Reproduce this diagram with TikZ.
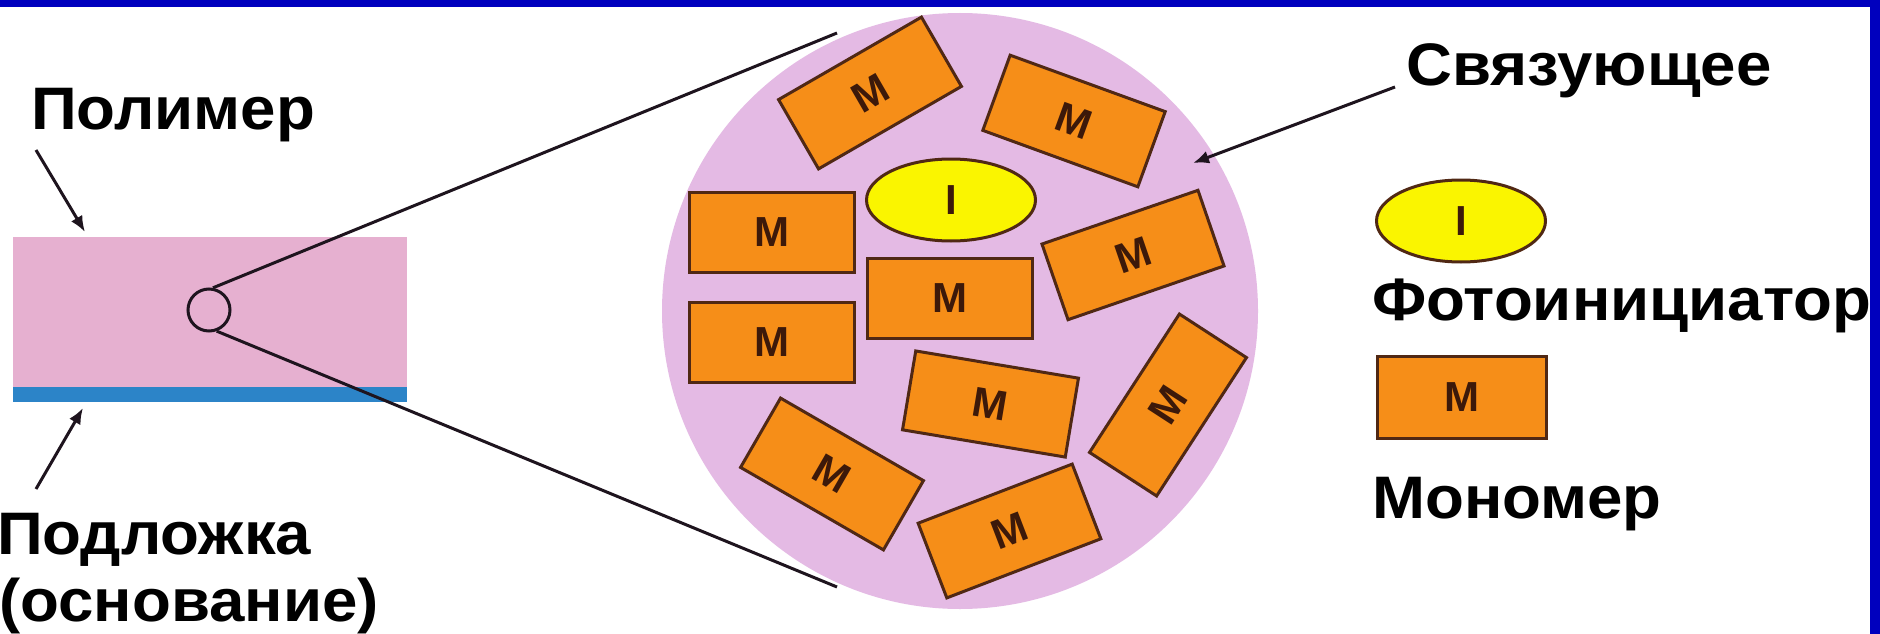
\documentclass[tikz,border=0pt]{standalone}
\usepackage{fontspec}
\setmainfont{Liberation Sans}
\newfontfamily\lblfont{Liberation Sans}[FakeStretch=1.06]
\usetikzlibrary{shapes.geometric,arrows.meta}
\definecolor{frameblue}{RGB}{0,0,190}
\definecolor{polypink}{RGB}{230,176,208}
\definecolor{circpink}{RGB}{228,186,228}
\definecolor{subblue}{RGB}{44,132,200}
\definecolor{morange}{RGB}{246,142,24}
\definecolor{mborder}{RGB}{80,40,20}
\definecolor{mtext}{RGB}{60,25,10}
\definecolor{iyellow}{RGB}{250,245,0}
\definecolor{lineclr}{RGB}{30,20,30}
\tikzset{
  mono/.style={draw=mborder, line width=3pt, fill=morange, minimum width=165pt,
    minimum height=80pt, inner sep=0pt, text=mtext,
    font=\fontsize{42}{46}\selectfont\bfseries},
  ini/.style={ellipse, draw=mborder, line width=3pt, fill=iyellow, minimum width=169pt,
    minimum height=82pt, inner sep=0pt, text=mtext,
    font=\fontsize{42}{46}\selectfont\bfseries},
  lbl/.style={anchor=base west, inner sep=0pt, text=black,
    font=\lblfont\fontsize{60}{70}\selectfont\bfseries},
  zline/.style={draw=lineclr, line width=3pt},
  parrow/.style={draw=lineclr, line width=3pt, -{Latex[length=16pt,width=13pt]}}
}
\begin{document}
\begin{tikzpicture}[x=1pt,y=-1pt]
\useasboundingbox (0,0) rectangle (1880,634);
\fill[white] (0,0) rectangle (1880,634);
% frame bars
\fill[frameblue] (0,0) rectangle (1880,7);
\fill[frameblue] (1870,0) rectangle (1880,634);

% polymer layer and substrate
\node[fill=polypink, minimum width=394pt, minimum height=150pt, inner sep=0pt, anchor=north west] (poly) at (13,237) {};
\node[fill=subblue, minimum width=394pt, minimum height=15pt, inner sep=0pt, anchor=north west] (sub) at (13,387) {};
\node[circle, draw=lineclr, line width=3pt, minimum size=42pt, inner sep=0pt] (zc) at (209,310) {};

% magnified circle
\node[circle, fill=circpink, minimum size=596pt, inner sep=0pt] (big) at (960,311) {};

% zoom lines
\coordinate (zt) at (837,33);
\coordinate (zb) at (837,587);
\draw[zline] (zc.80) -- (zt);
\draw[zline] (zc.-70) -- (zb);

% monomers
\node[mono, rotate=30] (mA) at (870,93) {M};
\node[mono, rotate=-20] (mB) at (1074,121) {M};
\node[mono] (mC) at (771.5,232.5) {M};
\node[mono] (mD) at (771.5,342.5) {M};
\node[mono] (mE) at (950,298) {M};
\node[mono, rotate=19] (mF) at (1133,255) {M};
\node[mono, rotate=-9.5] (mG) at (990.5,404) {M};
\node[mono, rotate=57] (mH) at (1168,405) {M};
\node[mono, rotate=-30] (mI) at (832,474) {M};
\node[mono, rotate=21] (mJ) at (1009.5,531) {M};
\node[ini] (ini) at (951,200) {I};

% labels
\node[lbl] (tpoly) at (31,129) {Полимер};
\node[lbl] (tsub1) at (-3,554) {Подложка};
\node[lbl] (tsub2) at (-1,621) {(основание)};
\node[lbl] (tbind) at (1406,85) {Связующее};
\node[lbl] (tini) at (1372,320) {Фотоинициатор};
\node[lbl] (tmono) at (1372,518) {Мономер};

% legend
\node[ini] (lini) at (1461,221) {I};
\node[mono, minimum width=169pt, minimum height=82pt] (lmono) at (1462,397) {M};

% pointer arrows
\coordinate (pa1) at (36,150);
\coordinate (pa1t) at (85,232);
\coordinate (pa2) at (36,489);
\coordinate (pa2t) at (83,408);
\coordinate (ba) at (1395,87);
\coordinate (bat) at (1193,163);
\draw[parrow] (pa1) -- (pa1t);
\draw[parrow] (pa2) -- (pa2t);
\draw[parrow] (ba) -- (bat);
\end{tikzpicture}
\end{document}
